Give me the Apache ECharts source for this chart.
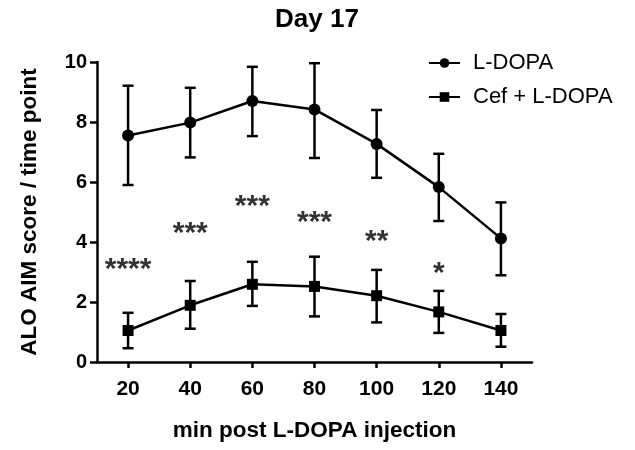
<!DOCTYPE html>
<html>
<head>
<meta charset="utf-8">
<script src="https://cdn.jsdelivr.net/npm/echarts@6/dist/echarts.min.js"></script>
<style>html,body{margin:0;padding:0;background:#fff}#c{width:635px;height:450px}</style>
</head>
<body>
<div id="c"></div>
<script>
var times = [20, 40, 60, 80, 100, 120, 140];
var ldopaMean = [7.55, 7.98, 8.70, 8.42, 7.27, 5.83, 4.12];
var ldopaUpper = [9.21, 9.14, 9.84, 9.96, 8.40, 6.94, 5.32];
var ldopaLower = [5.90, 6.82, 7.53, 6.80, 6.14, 4.70, 2.89];
var cefMean = [1.05, 1.89, 2.59, 2.52, 2.21, 1.67, 1.05];
var cefUpper = [1.64, 2.70, 3.34, 3.51, 3.07, 2.37, 1.60];
var cefLower = [0.46, 1.11, 1.87, 1.52, 1.32, 0.97, 0.51];
var starTimes = [20, 40, 60, 80, 100, 120];
var starLevels = [3.23, 4.43, 5.34, 4.81, 4.18, 3.10];
var starTexts = ['****', '***', '***', '***', '**', '*'];
var xTicks = [20, 40, 60, 80, 100, 120, 140];

function pairs(xs, ys) { return xs.map(function (x, i) { return [x, ys[i]]; }); }
function errData(lo, hi) { return times.map(function (t, i) { return [t, lo[i], hi[i]]; }); }

function errRender(params, api) {
  var x = api.value(0);
  var lo = api.coord([x, api.value(1)]);
  var hi = api.coord([x, api.value(2)]);
  var cap = 5.5;
  var st = { stroke: '#000', lineWidth: 2.5 };
  return {
    type: 'group',
    children: [
      { type: 'line', shape: { x1: lo[0], y1: lo[1], x2: hi[0], y2: hi[1] }, style: st },
      { type: 'line', shape: { x1: hi[0] - cap, y1: hi[1], x2: hi[0] + cap, y2: hi[1] }, style: st },
      { type: 'line', shape: { x1: lo[0] - cap, y1: lo[1], x2: lo[0] + cap, y2: lo[1] }, style: st }
    ]
  };
}

var chart = echarts.init(document.getElementById('c'));
var FONT = 'Liberation Sans, Arial, sans-serif';
chart.setOption({
  animation: false,
  backgroundColor: '#fff',
  textStyle: { fontFamily: FONT },
  title: {
    text: 'Day 17', left: 312, textAlign: 'center', top: 2,
    textStyle: { fontFamily: FONT, fontWeight: 'bold', fontSize: 26, color: '#000' }
  },
  legend: {
    orient: 'vertical', left: 423, top: 47, itemWidth: 31, itemHeight: 12, itemGap: 12,
    textStyle: { fontFamily: FONT, fontSize: 22, color: '#000', padding: [0, 0, 0, 8] },
    data: ['L-DOPA', 'Cef + L-DOPA']
  },
  grid: { left: 97, right: 103, top: 62, bottom: 88, containLabel: false },
  xAxis: {
    type: 'value', min: 10, max: 150,
    name: 'min post L-DOPA injection', nameLocation: 'middle', nameGap: 57,
    nameTextStyle: { fontFamily: FONT, fontWeight: 'bold', fontSize: 22.5, color: '#000' },
    axisLine: { lineStyle: { color: '#000', width: 2.5 } },
    axisTick: { show: true, length: 6, lineStyle: { color: '#000', width: 2.5 }, customValues: xTicks },
    axisLabel: { customValues: xTicks, color: '#000', fontWeight: 'bold', fontSize: 21, fontFamily: FONT, margin: 17 },
    splitLine: { show: false }
  },
  yAxis: {
    type: 'value', min: 0, max: 10, interval: 2,
    name: 'ALO AIM score / time point', nameLocation: 'middle', nameGap: 56, nameRotate: 90,
    nameTextStyle: { fontFamily: FONT, fontWeight: 'bold', fontSize: 22.5, color: '#000' },
    axisLine: { show: true, lineStyle: { color: '#000', width: 2.5 } },
    axisTick: { show: true, length: 7, lineStyle: { color: '#000', width: 2.5 } },
    axisLabel: { color: '#000', fontWeight: 'bold', fontSize: 20, fontFamily: FONT, margin: 10 },
    splitLine: { show: false }
  },
  series: [
    {
      name: 'L-DOPA', type: 'line', data: pairs(times, ldopaMean),
      symbol: 'circle', symbolSize: 12,
      lineStyle: { color: '#000', width: 2.5 }, itemStyle: { color: '#000' }, z: 3
    },
    {
      name: 'Cef + L-DOPA', type: 'line', data: pairs(times, cefMean),
      symbol: 'rect', symbolSize: 11,
      lineStyle: { color: '#000', width: 2.5 }, itemStyle: { color: '#000' }, z: 3
    },
    { type: 'custom', renderItem: errRender, data: errData(ldopaLower, ldopaUpper), z: 2, silent: true },
    { type: 'custom', renderItem: errRender, data: errData(cefLower, cefUpper), z: 2, silent: true },
    {
      type: 'scatter', symbolSize: 0, silent: true,
      data: starTimes.map(function (t, i) { return { value: [t, starLevels[i]], label: { formatter: starTexts[i] } }; }),
      label: {
        show: true, position: 'inside', offset: [0, 5],
        fontFamily: FONT, fontWeight: 'bold', fontSize: 30, color: '#000'
      }
    }
  ]
});
</script>
</body>
</html>
